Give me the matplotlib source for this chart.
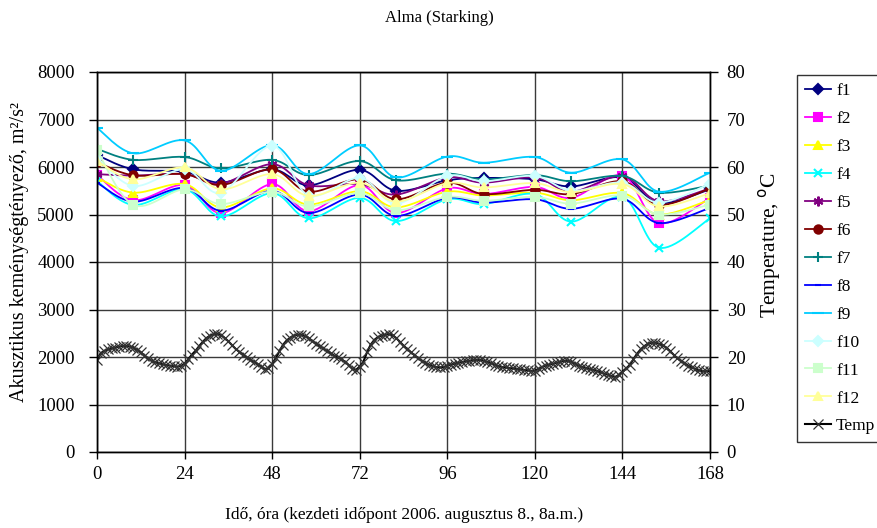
import numpy as np
import matplotlib
matplotlib.use("Agg")
import matplotlib.pyplot as plt

plt.rcParams['font.family'] = ['Liberation Serif', 'DejaVu Serif']

hours = [0, 10, 24, 34, 48, 58, 72, 82, 96, 106, 120, 130, 144, 154, 168]

f1 = [6250, 5950, 5900, 5670, 5950, 5615, 5940, 5500, 5720, 5770, 5740, 5590, 5780, 5240, 5530]
f2 = [5830, 5300, 5620, 5030, 5640, 5070, 5620, 5030, 5550, 5430, 5580, 5350, 5820, 4820, 5350]
f3 = [5780, 5460, 5640, 5150, 5550, 5210, 5490, 5150, 5480, 5400, 5460, 5300, 5450, 5000, 5310]
f4 = [5700, 5200, 5530, 4960, 5450, 4920, 5350, 4860, 5320, 5220, 5430, 4850, 5370, 4300, 4920]
f5 = [5850, 5820, 5850, 5650, 6060, 5615, 5640, 5420, 5780, 5670, 5780, 5480, 5810, 5280, 5550]
f6 = [6100, 5825, 5850, 5620, 5950, 5480, 5740, 5320, 5670, 5430, 5520, 5430, 5700, 5200, 5550]
f7 = [6380, 6150, 6210, 5970, 6150, 5830, 6125, 5720, 5860, 5740, 5830, 5700, 5810, 5460, 5610]
f8 = [5670, 5270, 5560, 5080, 5500, 5030, 5420, 4970, 5350, 5250, 5320, 5120, 5330, 4820, 5140]
f9 = [6825, 6287, 6560, 5920, 6460, 5850, 6455, 5780, 6220, 6090, 6210, 5880, 6160, 5480, 5880]
f10 = [6200, 5600, 5950, 5460, 6450, 5400, 5770, 5230, 5810, 5700, 5810, 5500, 5670, 5250, 5650]
f11 = [6350, 5200, 5530, 5220, 5480, 5170, 5450, 5090, 5370, 5290, 5370, 5230, 5400, 5000, 5210]
f12 = [6125, 5740, 5990, 5530, 5850, 5390, 5670, 5270, 5660, 5570, 5660, 5470, 5640, 5170, 5450]

temp_hours = list(range(0, 169))
temp = [19.4, 20.8, 21.3, 21.6, 21.8, 22.0, 22.2, 22.3, 22.3, 22.2,
        22.0, 21.5, 21.0, 20.3, 19.7, 19.2, 18.9, 18.7, 18.5, 18.3,
        18.2, 18.1, 18.0, 18.1, 18.6, 19.5, 20.5, 21.3, 22.3, 23.2,
        24.0, 24.5, 24.8, 24.9, 24.6, 24.0, 23.3, 22.5, 21.7, 21.1,
        20.5, 19.9, 19.4, 19.0, 18.5, 18.0, 17.5, 17.6, 18.5, 19.8,
        21.2, 22.6, 23.5, 24.1, 24.5, 24.7, 24.7, 24.4, 24.0, 23.4,
        22.8, 22.3, 21.8, 21.3, 20.8, 20.3, 19.9, 19.5, 19.0, 18.3,
        17.5, 17.3, 18.0, 19.0, 21.0, 22.6, 23.6, 24.2, 24.5, 24.7,
        24.8, 24.6, 24.0, 23.2, 22.4, 21.7, 21.0, 20.4, 19.8, 19.2,
        18.8, 18.4, 18.1, 17.9, 17.8, 17.9, 18.2, 18.4, 18.6, 18.8,
        18.9, 19.1, 19.2, 19.3, 19.4, 19.4, 19.2, 19.0, 18.7, 18.4,
        18.1, 17.9, 17.8, 17.7, 17.6, 17.5, 17.4, 17.3, 17.2, 17.1,
        17.1, 17.5, 17.9, 18.2, 18.4, 18.6, 18.8, 19.0, 19.2, 19.2,
        19.0, 18.6, 18.2, 17.9, 17.7, 17.5, 17.3, 17.1, 16.8, 16.5,
        16.3, 16.0, 15.8, 16.2, 16.9, 17.6, 18.3, 19.5, 20.7, 21.6,
        22.3, 22.8, 23.0, 23.0, 22.8, 22.5, 22.0, 21.3, 20.5, 19.8,
        19.2, 18.7, 18.2, 17.8, 17.5, 17.2, 17.0, 17.1, 17.0]

labels = ['f1', 'f2', 'f3', 'f4', 'f5', 'f6', 'f7', 'f8', 'f9', 'f10', 'f11', 'f12']
series = [f1, f2, f3, f4, f5, f6, f7, f8, f9, f10, f11, f12]
colors = ['#000080', '#FF00FF', '#FFFF00', '#00FFFF', '#800080', '#800000',
          '#008080', '#0000FF', '#00CCFF', '#CCFFFF', '#CCFFCC', '#FFFF99']
markers = ['D', 's', '^', 'x', (6, 2, 0), 'o', '+', '_', '_', 'D', 's', '^']
msizes = [5, 6, 6, 6, 7, 6, 7, 5, 8, 5, 6, 6]


def smooth(x, y, n=16):
    P = np.column_stack([np.asarray(x, float), np.asarray(y, float)])
    Pe = np.vstack([P[0], P, P[-1]])
    t = np.linspace(0, 1, n, endpoint=False)[:, None]
    h00 = 2 * t**3 - 3 * t**2 + 1
    h10 = t**3 - 2 * t**2 + t
    h01 = -2 * t**3 + 3 * t**2
    h11 = t**3 - t**2
    out = []
    for i in range(len(P) - 1):
        p0, p1, p2, p3 = Pe[i], Pe[i + 1], Pe[i + 2], Pe[i + 3]
        m1 = (p2 - p0) / 2
        m2 = (p3 - p1) / 2
        out.append(h00 * p1 + h10 * m1 + h01 * p2 + h11 * m2)
    out.append(P[-1:])
    S = np.vstack(out)
    return S[:, 0], S[:, 1], list(range(0, len(S), n))


fig = plt.figure(figsize=(8.78, 5.28), dpi=100)
ax = fig.add_axes([97 / 878, 1 - 452 / 528, 613 / 878, 380 / 528])
ax2 = ax.twinx()

handles = []
for lab, ys, c, m, ms in zip(labels, series, colors, markers, msizes):
    sx, sy, mev = smooth(hours, ys)
    h, = ax.plot(sx, sy, color=c, lw=1.3, marker=m, markevery=mev, ms=ms,
                 mfc=c, mec=c, mew=1.5, label=lab)
    handles.append(h)

ht, = ax2.plot(temp_hours, temp, color='black', lw=1.5, marker='x', ms=7,
               mew=0.9, mec='#333333', label='Temp')
handles.append(ht)

ax.set_xlim(0, 168)
ax.set_ylim(0, 8000)
ax2.set_ylim(0, 80)
ax.set_xticks(range(0, 169, 24))
ax.set_yticks(range(0, 8001, 1000))
ax2.set_yticks(range(0, 81, 10))
ax.grid(True, color='#3a3a3a', lw=1)
ax.set_axisbelow(True)

fs = 13.5
ax.tick_params(axis='y', labelsize=fs, direction='out', length=6, width=1, pad=10)
ax.tick_params(axis='x', labelsize=fs, direction='out', length=5, width=1, pad=5)
ax2.tick_params(labelsize=fs, direction='out', length=6, width=1, pad=6)
for a in (ax, ax2):
    for s in a.spines.values():
        s.set_color('black')
        s.set_linewidth(1)

fig.text(0.5, 1 - 18 / 528, 'Alma (Starking)', ha='center', va='center', fontsize=12)
fig.text(20 / 878, 1 - 252 / 528, 'Akusztikus keménységtényező, m²/s²', rotation=90,
         ha='center', va='center', fontsize=14.5)
fig.text(770 / 878, 1 - 245 / 528, 'Temperature, $^{\\rm o}$C', rotation=90,
         ha='center', va='center', fontsize=15.5)
fig.text(404 / 878, 1 - 515 / 528, 'Idő, óra (kezdeti időpont 2006. augusztus 8., 8a.m.)',
         ha='center', va='center', fontsize=12.5)

leg = fig.legend(handles=handles, loc='upper left',
                 bbox_to_anchor=(797 / 878, 1 - 75 / 528), fontsize=12.5,
                 frameon=True, fancybox=False, edgecolor='black',
                 handlelength=1.5, handletextpad=0.3, labelspacing=0.68,
                 borderpad=0.45, borderaxespad=0)
leg.get_frame().set_linewidth(1)

fig.savefig('out.png', dpi=100)
